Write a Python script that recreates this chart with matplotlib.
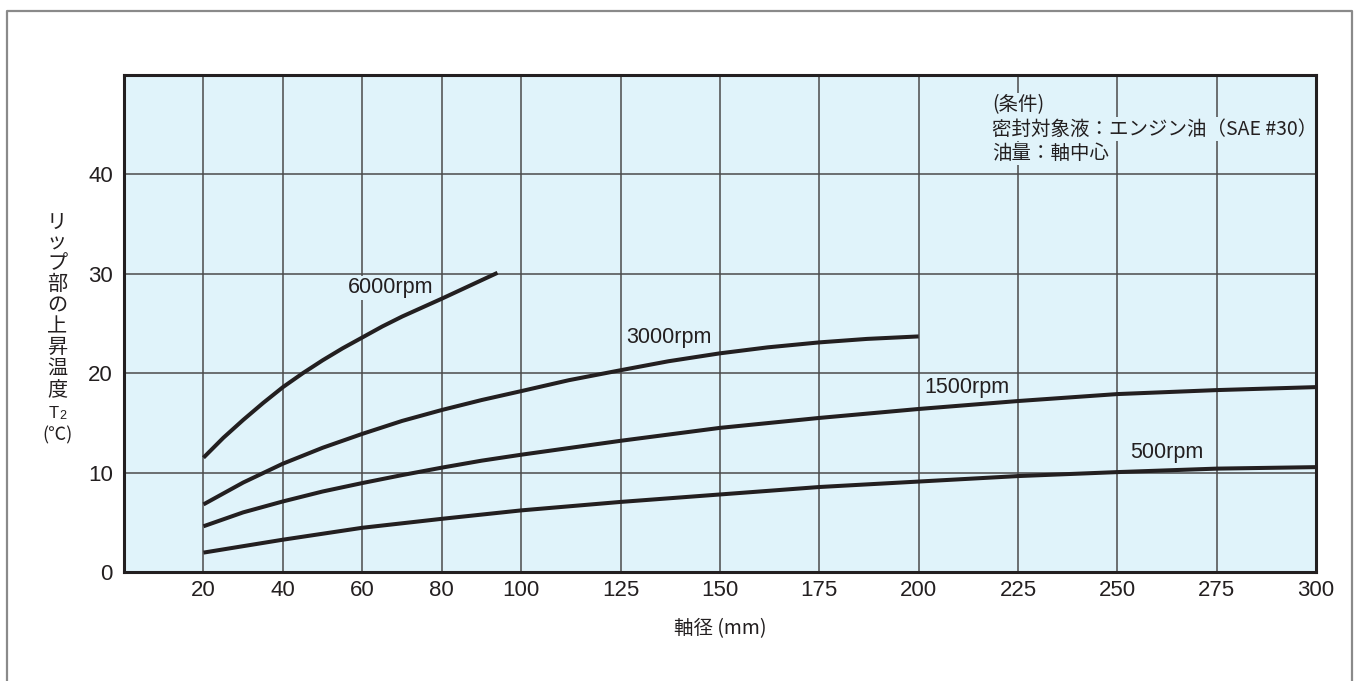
"""リップ部の上昇温度 vs 軸径 (回転数別)"""
import matplotlib
matplotlib.use("Agg")
import matplotlib.pyplot as plt
from matplotlib.lines import Line2D

plt.rcParams["font.family"] = ["Liberation Sans", "Noto Sans CJK JP", "DejaVu Sans"]

# --- データ ---
x_6000 = [20, 25, 30, 35, 40, 45, 50, 55, 60, 65, 70, 75, 80, 87, 94]
y_6000 = [11.5, 13.5, 15.3, 17.0, 18.6, 20.0, 21.3, 22.5, 23.6, 24.7, 25.7, 26.6, 27.5, 28.8, 30.1]

x_3000 = [20, 30, 40, 50, 60, 70, 80, 90, 100, 112, 125, 137, 150, 162, 175, 187, 200]
y_3000 = [6.8, 9.0, 10.9, 12.5, 13.9, 15.2, 16.3, 17.3, 18.2, 19.3, 20.3, 21.2, 22.0, 22.6, 23.1, 23.45, 23.7]

x_1500 = [20, 30, 40, 50, 60, 70, 80, 90, 100, 125, 150, 175, 200, 225, 250, 275, 300]
y_1500 = [4.6, 6.0, 7.1, 8.1, 8.95, 9.75, 10.5, 11.2, 11.8, 13.2, 14.5, 15.5, 16.4, 17.2, 17.9, 18.3, 18.6]

x_500 = [20, 40, 60, 80, 100, 125, 150, 175, 200, 225, 250, 275, 300]
y_500 = [1.95, 3.25, 4.45, 5.35, 6.2, 7.05, 7.8, 8.55, 9.1, 9.65, 10.05, 10.4, 10.55]

x_ticks = [20, 40, 60, 80, 100, 125, 150, 175, 200, 225, 250, 275, 300]
y_ticks = [0, 10, 20, 30, 40]

curve_labels = ["6000rpm", "3000rpm", "1500rpm", "500rpm"]
label_pos = [(56.4, 28.6), (126.5, 23.6), (201.4, 18.6), (253.3, 12.0)]

conditions = ["(条件)", "密封対象液：エンジン油（SAE #30）", "油量：軸中心"]

BG = "#e0f3fa"
INK = "#231f20"
W, H = 1354, 681

fig = plt.figure(figsize=(W / 100, H / 100), dpi=100)
ax = fig.add_axes([124 / W, 1 - 572 / H, (1316 - 124) / W, (572 - 75) / H])
ax.set_facecolor(BG)
ax.set_xlim(0, 300)
ax.set_ylim(0, 50)

# グリッド
for gx in x_ticks[:-1]:
    ax.axvline(gx, color="#4a4a4a", lw=1.1, zorder=1)
for gy in y_ticks[1:]:
    ax.axhline(gy, color="#4a4a4a", lw=1.1, zorder=1)

for xs, ys in [(x_6000, y_6000), (x_3000, y_3000), (x_1500, y_1500), (x_500, y_500)]:
    ax.plot(xs, ys, color=INK, lw=2.9, solid_capstyle="butt", solid_joinstyle="round", zorder=3)

for txt, (lx, ly) in zip(curve_labels, label_pos):
    ax.text(lx, ly, txt, fontsize=15.5, color=INK, ha="left", va="center", zorder=2,
            bbox=dict(facecolor=BG, edgecolor="none", pad=1))

# 条件
for i, line in enumerate(conditions):
    ax.text(0.728, 0.94 - i * 0.049, line, transform=ax.transAxes, fontsize=14,
            family=["Noto Sans CJK JP", "DejaVu Sans"], color=INK, ha="left", va="center",
            zorder=2, bbox=dict(facecolor=BG, edgecolor="none", pad=1))

ax.set_xticks(x_ticks)
ax.set_xticklabels([str(v) for v in x_ticks])
ax.set_yticks(y_ticks)
ax.tick_params(length=0, labelsize=16, colors=INK, pad=6)
ax.tick_params(axis="y", pad=8)
for s in ax.spines.values():
    s.set_color(INK)
    s.set_linewidth(2.2)
    s.set_zorder(4)

ax.set_xlabel("軸径 (mm)", fontsize=14, family=["Noto Sans CJK JP"], color=INK, labelpad=12)

# 縦書きの軸ラベル
ychars = "リップ部の上昇温度"
for i, ch in enumerate(ychars):
    fig.text(57 / W, 1 - (222 + i * 20.9) / H, ch, fontsize=14.5, family=["Noto Sans CJK JP"],
             color=INK, ha="center", va="center")
fig.text(54 / W, 1 - 413 / H, "T", fontsize=12, color=INK, ha="center", va="center")
fig.text(63 / W, 1 - 416 / H, "2", fontsize=9, color=INK, ha="center", va="center")
fig.text(57 / W, 1 - 435 / H, "(℃)", fontsize=13, family=["Noto Sans CJK JP"],
         color=INK, ha="center", va="center")

# 外枠
fig.add_artist(Line2D([7 / W, 7 / W, 1352 / W, 1352 / W], [0, 1 - 11 / H, 1 - 11 / H, 0],
                      transform=fig.transFigure, color="#8a8a8a", lw=1.6))

fig.savefig("out.png", dpi=100)
